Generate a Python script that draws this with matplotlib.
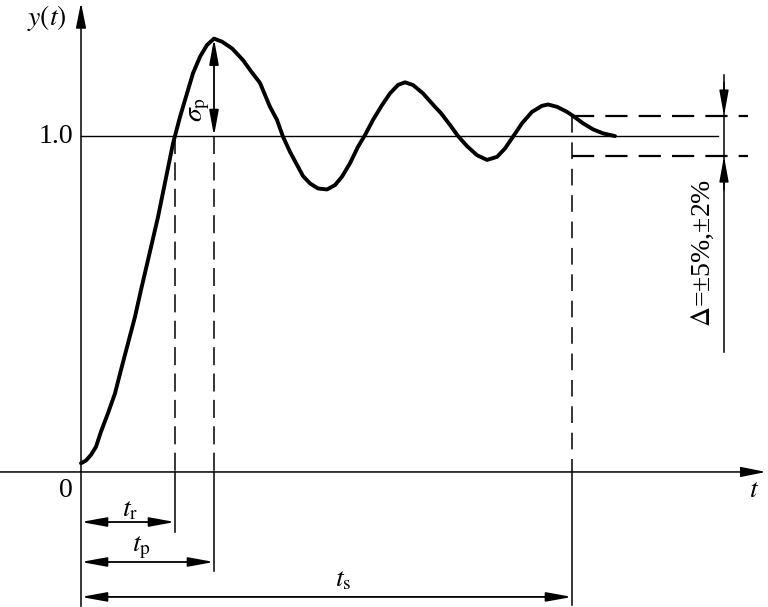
import matplotlib
matplotlib.use("Agg")
import matplotlib.pyplot as plt

plt.rcParams['mathtext.fontset'] = 'stix'
plt.rcParams['font.family'] = ['Liberation Serif', 'DejaVu Serif']
plt.rcParams['lines.scale_dashes'] = False

# ---- data ----
t_curve = [0.00, 0.05, 0.10, 0.15, 0.20, 0.27, 0.34, 0.40, 0.47, 0.54,
           0.60, 0.67, 0.77, 0.92, 0.99, 1.06, 1.12, 1.19, 1.26, 1.33,
           1.41, 1.51, 1.62, 1.70, 1.79, 1.89, 1.96, 2.02, 2.09, 2.16,
           2.22, 2.29, 2.37, 2.46, 2.54, 2.61, 2.69, 2.77, 2.84, 2.92,
           3.01, 3.09, 3.17, 3.24, 3.32, 3.42, 3.54, 3.60, 3.69, 3.77,
           3.86, 3.96, 4.06, 4.16, 4.24, 4.32, 4.41, 4.51, 4.61, 4.67,
           4.76, 4.86, 4.92, 5.02, 5.12, 5.22, 5.34]
y_curve = [0.026, 0.034, 0.051, 0.075, 0.120, 0.175, 0.234, 0.304, 0.383, 0.462,
           0.542, 0.631, 0.759, 0.978, 1.057, 1.127, 1.187, 1.236, 1.271, 1.290,
           1.281, 1.261, 1.226, 1.193, 1.158, 1.087, 1.048, 0.998, 0.953, 0.914,
           0.881, 0.859, 0.844, 0.841, 0.854, 0.879, 0.919, 0.968, 1.003, 1.048,
           1.092, 1.127, 1.152, 1.160, 1.152, 1.127, 1.087, 1.068, 1.033, 1.000,
           0.970, 0.943, 0.929, 0.938, 0.963, 0.998, 1.038, 1.072, 1.090, 1.094,
           1.087, 1.072, 1.060, 1.038, 1.020, 1.008, 1.000]
y_final = 1.0
band = 0.06
t_r = 0.94
t_p = 1.33
t_s = 4.91
y_peak = 1.290
tick_labels = ["0", "1.0"]

fig = plt.figure(figsize=(7.68, 6.07), dpi=100)
ax = fig.add_axes([0, 0, 1, 1])
ax.set_xlim(-0.81, 6.87)
ax.set_ylim(-0.402, 1.405)
ax.axis('off')

K = 'black'
axis_arrow = dict(arrowstyle='-|>,head_length=1.1,head_width=0.22', color=K,
                  lw=1.1, mutation_scale=14, shrinkA=0, shrinkB=0)
dbl = dict(arrowstyle='<|-|>,head_length=1.1,head_width=0.2', color=K,
           lw=1.3, mutation_scale=14, shrinkA=0, shrinkB=0)

# axes
ax.annotate('', xy=(6.85, 0), xytext=(-0.81, 0), arrowprops=axis_arrow)
ax.annotate('', xy=(0, 1.397), xytext=(0, -0.40), arrowprops=axis_arrow)

# steady-state line
ax.plot([0, 6.37], [y_final, y_final], color=K, lw=1.0)

# tolerance band
for yb in (y_final + band, y_final - band):
    ax.plot([t_s, 6.67], [yb, yb], color=K, lw=1.6, dashes=(16, 8))

# response curve
ax.plot(t_curve, y_curve, color=K, lw=2.8, solid_capstyle='round',
        solid_joinstyle='round', zorder=5)

# vertical markers
dash_v = (13, 6)
ax.plot([t_r, t_r], [y_final, 0], color=K, lw=1.1, dashes=dash_v)
ax.plot([t_r, t_r], [0, -0.179], color=K, lw=1.1)
ax.plot([t_p, t_p], [y_final, 0], color=K, lw=1.1, dashes=dash_v)
ax.plot([t_p, t_p], [0, -0.295], color=K, lw=1.1)
ax.plot([t_s, t_s], [y_final + band, 0], color=K, lw=1.1, dashes=(12, 7))
ax.plot([t_s, t_s], [0, -0.396], color=K, lw=1.1)

# time dimension arrows
ax.annotate('', xy=(t_r, -0.149), xytext=(0, -0.149), arrowprops=dbl)
ax.annotate('', xy=(t_p, -0.268), xytext=(0, -0.268), arrowprops=dbl)
ax.annotate('', xy=(t_s, -0.372), xytext=(0, -0.372), arrowprops=dbl)

# overshoot arrow
ax.annotate('', xy=(t_p, y_peak), xytext=(t_p, y_final), arrowprops=dbl)

# tolerance dimension
ax.plot([6.43, 6.43], [1.182, 0.357], color=K, lw=1.1)
single = dict(arrowstyle='-|>,head_length=1.1,head_width=0.2', color=K,
              lw=1.1, mutation_scale=14, shrinkA=0, shrinkB=0)
ax.annotate('', xy=(6.43, y_final + band), xytext=(6.43, y_final + band + 0.1), arrowprops=single)
ax.annotate('', xy=(6.43, y_final - band), xytext=(6.43, y_final - band - 0.1), arrowprops=single)

# labels
fs = 20
ax.text(-0.34, 1.352, r'$y(t)$', fontsize=fs, ha='center', va='center')
ax.text(-0.25, y_final, tick_labels[1], fontsize=fs, ha='center', va='center')
ax.text(-0.15, -0.054, tick_labels[0], fontsize=fs, ha='center', va='center')
ax.text(6.73, -0.054, r'$t$', fontsize=fs, ha='center', va='center')
ax.text(0.49, -0.113, r'$t_{\rm r}$', fontsize=fs, ha='center', va='center')
ax.text(0.60, -0.226, r'$t_{\rm p}$', fontsize=fs, ha='center', va='center')
ax.text(2.62, -0.322, r'$t_{\rm s}$', fontsize=fs, ha='center', va='center')
ax.text(1.18, 1.08, r'$\sigma_{\rm p}$', fontsize=fs, ha='center', va='center', rotation=90)
ax.text(6.22, 0.652, r'$\mathit{\Delta}$=±5%,±2%', fontsize=fs, ha='center', va='center', rotation=90)

fig.savefig('out.png', dpi=100)
